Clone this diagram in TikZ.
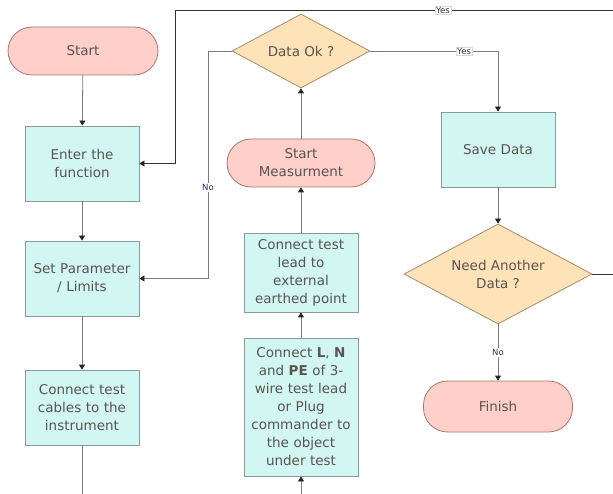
\documentclass[tikz,border=0pt]{standalone}
\usepackage{fontspec}
\setmainfont{DejaVu Sans}
\usetikzlibrary{shapes.geometric,arrows.meta}
\definecolor{termfill}{HTML}{FFD0CA}
\definecolor{termline}{HTML}{A8766C}
\definecolor{procfill}{HTML}{D2F6F1}
\definecolor{procline}{HTML}{869A97}
\definecolor{decfill}{HTML}{FFE3B8}
\definecolor{decline}{HTML}{A48D6A}
\definecolor{txt}{HTML}{5A5450}
\definecolor{wire}{HTML}{7C7C7C}
\definecolor{lbl}{HTML}{2E2A66}
\tikzset{
  base/.style={draw, line width=0.8pt, text=txt, align=center, inner sep=0pt,
    font=\fontsize{13.5pt}{18pt}\selectfont},
  term/.style={base, fill=termfill, draw=termline, rounded corners=24pt},
  proc/.style={base, fill=procfill, draw=procline, minimum width=114pt, text width=110pt},
  decision/.style={base, diamond, fill=decfill, draw=decline},
  wirestyle/.style={draw=wire, line width=0.8pt,
    -{Triangle[length=5pt,width=6pt,color=black!85]}},
  plain/.style={draw=wire, line width=0.8pt},
  tag/.style={fill=white, text=lbl, inner sep=1pt, font=\fontsize{8.5pt}{9pt}\selectfont},
  yestag/.style={tag, text=black!80, draw=black!15, line width=0.4pt}
}
\begin{document}
\begin{tikzpicture}[x=1pt, y=-1pt]
  \clip (0,0) rectangle (613,494);
  \fill[white] (0,0) rectangle (613,494);

  % left column
  \node[term, minimum width=150pt, minimum height=48pt] (start) at (83,51) {Start};
  \node[proc, minimum height=75pt] (enter) at (82,163.5) {Enter the\\function};
  \node[proc, minimum height=75pt] (setp) at (82,278.5) {Set Parameter\\/ Limits};
  \node[proc, minimum height=75pt] (cables) at (82,407.5) {Connect test\\cables to the\\instrument};
  \coordinate (cablesout) at (82,500);

  % middle column
  \node[decision, aspect=1.86, minimum width=138pt, minimum height=74pt] (dataok) at (301,51) {Data Ok ?};
  \node[term, minimum width=148pt, minimum height=48pt] (startm) at (301,163) {Start\\Measurment};
  \node[proc, minimum height=79pt] (lead) at (301,272.5) {Connect test\\lead to\\external\\earthed point};
  \node[proc, minimum height=138pt] (lpe) at (301,407) {Connect \textbf{L}, \textbf{N}\\and \textbf{PE} of 3-\\wire test lead\\or Plug\\commander to\\the object\\under test};
  \coordinate (lpein) at (301,500);

  % right column
  \node[proc, minimum height=75pt] (save) at (498,149.5) {Save Data};
  \node[decision, aspect=1.88, minimum width=188pt, minimum height=100pt] (need) at (498,274) {Need Another\\Data ?};
  \node[term, minimum width=149pt, minimum height=51pt] (finish) at (498,406.5) {Finish};

  % routing points
  \coordinate (nocorner) at (208,51);
  \coordinate (loopright) at (620,274);
  \coordinate (looptop) at (175,10);

  % connectors
  \draw[wirestyle] (start) -- (enter);
  \draw[wirestyle] (enter) -- (setp);
  \draw[wirestyle] (setp) -- (cables);
  \draw[plain] (cables) -- (cablesout);
  \draw[wirestyle] (lpein) -- (lpe);
  \draw[wirestyle] (lpe) -- (lead);
  \draw[wirestyle] (lead) -- (startm);
  \draw[wirestyle] (startm) -- (dataok);
  \draw[wirestyle] (dataok.east) -| node[yestag, pos=0.367] {Yes} (save.north);
  \draw[wirestyle] (dataok.west) -- (nocorner) |- node[tag, pos=0.3] {No} (setp.east);
  \draw[wirestyle] (save) -- (need);
  \draw[wirestyle] (need) -- node[tag] {No} (finish);
  \draw[wirestyle, draw=black!80] (need.east) -- (loopright) |- (looptop) |- (enter.east);
  \node[yestag] (yestop) at (443,10) {Yes};
\end{tikzpicture}
\end{document}
